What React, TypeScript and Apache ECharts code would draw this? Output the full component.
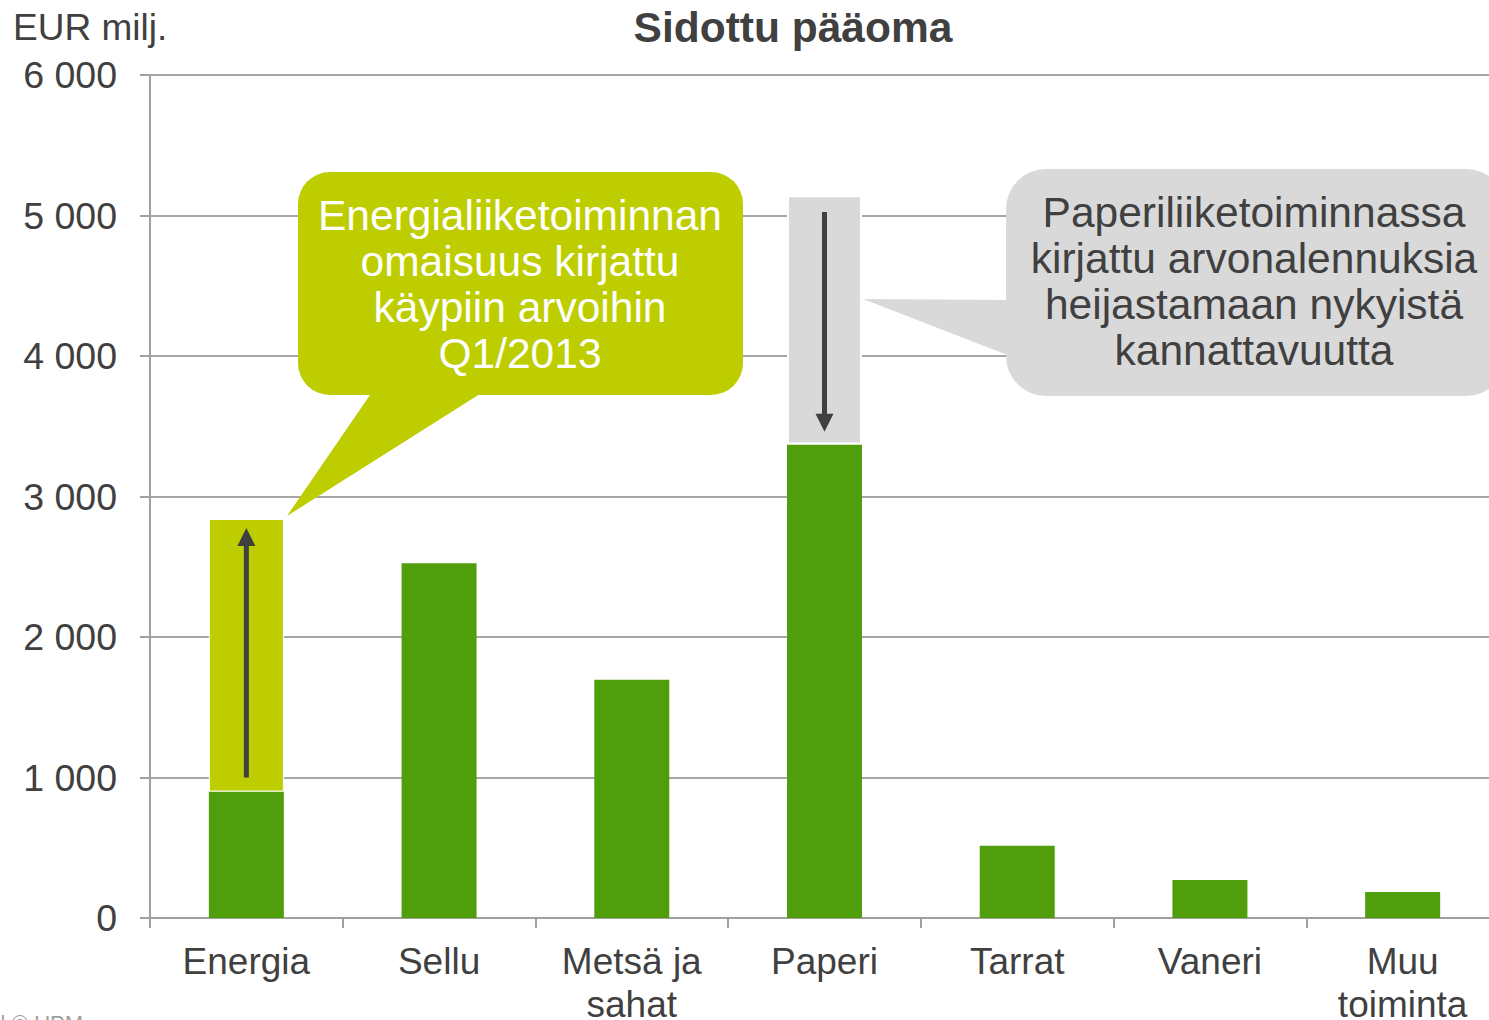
import React, { useEffect, useRef } from "react";
import * as echarts from "echarts";

const categories = ["Energia", "Sellu", "Metsä ja\nsahat", "Paperi", "Tarrat", "Vaneri", "Muu\ntoiminta"];
const baseValues = [900, 2525, 1695, 3370, 515, 270, 185];
const energyRevaluation = [1940, null, null, null, null, null, null];
const paperImpairment = [null, null, null, 1775, null, null, null];
const yTicks = [0, 1000, 2000, 3000, 4000, 5000, 6000];
const energyArrow = [1000, 2775];
const paperArrow = [5025, 3460];

const TEXT = "#404040";
const GREEN = "#509E0C";
const LIME = "#BDCD00";
const GRAY = "#D9D9D9";
const FONT = "Liberation Sans, Arial, sans-serif";

export default function App() {
  const ref = useRef<HTMLDivElement>(null);
  useEffect(() => {
    if (!ref.current) return;
    const chart = echarts.init(ref.current, undefined, { renderer: "svg" });
    chart.setOption({
      animation: false,
      textStyle: { fontFamily: FONT },
      grid: { left: 150, right: -10, top: 75, bottom: 102, containLabel: false, outerBoundsMode: "none" },
      xAxis: {
        type: "category",
        data: categories,
        axisLine: { lineStyle: { color: "#A0A0A0", width: 2 } },
        axisTick: { show: true, length: 10, lineStyle: { color: "#A0A0A0", width: 2 } },
        axisLabel: { fontSize: 37, color: TEXT, margin: 22, lineHeight: 43, interval: 0, fontFamily: FONT },
      },
      yAxis: {
        type: "value",
        min: yTicks[0],
        max: yTicks[yTicks.length - 1],
        interval: 1000,
        axisLine: { show: true, lineStyle: { color: "#A0A0A0", width: 2 } },
        axisTick: { show: true, length: 10, lineStyle: { color: "#A0A0A0", width: 2 } },
        splitLine: { lineStyle: { color: "#A6A6A6", width: 2 } },
        axisLabel: {
          fontSize: 37.5,
          color: TEXT,
          margin: 33,
          fontFamily: FONT,
          formatter: (v: number) => String(v).replace(/\B(?=(\d{3})+(?!\d))/g, " "),
        },
      },
      series: [
        {
          type: "bar",
          stack: "s",
          data: baseValues,
          barWidth: 75,
          itemStyle: { color: GREEN },
        },
        {
          type: "bar",
          stack: "s",
          data: energyRevaluation,
          barWidth: 75,
          itemStyle: { color: LIME, borderColor: "#fff", borderWidth: 1 },
        },
        {
          type: "bar",
          stack: "s",
          data: paperImpairment,
          barWidth: 75,
          itemStyle: { color: GRAY, borderColor: "#fff", borderWidth: 2 },
        },
      ],
    });

    const px = (cat: string) => chart.convertToPixel({ xAxisIndex: 0 }, cat) as number;
    const py = (v: number) => chart.convertToPixel({ yAxisIndex: 0 }, v) as number;
    const ex = px(categories[0]);
    const pxp = px(categories[3]);
    const e0 = py(energyArrow[0]);
    const e1 = py(energyArrow[1]);
    const p0 = py(paperArrow[0]);
    const p1 = py(paperArrow[1]);
    const head = 18;
    const hw = 9;

    chart.setOption({
      graphic: [
        {
          type: "text",
          x: 793,
          y: 27,
          style: {
            text: "Sidottu pääoma",
            fontSize: 42.5,
            fontWeight: "bold",
            fill: TEXT,
            fontFamily: FONT,
            align: "center",
            verticalAlign: "middle",
          },
        },
        {
          type: "text",
          left: 13,
          top: 9,
          style: { text: "EUR milj.", fontSize: 37, fill: TEXT, fontFamily: FONT },
        },
        {
          type: "text",
          left: 0,
          top: 1012,
          style: { text: "| © UPM", fontSize: 22, fill: "#A0A0A0", fontFamily: FONT },
        },
        {
          type: "line",
          shape: { x1: ex, y1: e0, x2: ex, y2: e1 + head - 2 },
          style: { stroke: TEXT, lineWidth: 5 },
          z: 10,
        },
        {
          type: "polygon",
          shape: { points: [[ex, e1], [ex - hw, e1 + head], [ex + hw, e1 + head]] },
          style: { fill: TEXT },
          z: 10,
        },
        {
          type: "line",
          shape: { x1: pxp, y1: p0, x2: pxp, y2: p1 - head + 2 },
          style: { stroke: TEXT, lineWidth: 5 },
          z: 10,
        },
        {
          type: "polygon",
          shape: { points: [[pxp, p1], [pxp - hw, p1 - head], [pxp + hw, p1 - head]] },
          style: { fill: TEXT },
          z: 10,
        },
        {
          type: "polygon",
          shape: { points: [[372, 392], [483, 392], [287, 516]] },
          style: { fill: LIME },
          z: 20,
        },
        {
          type: "rect",
          shape: { x: 298, y: 172, width: 445, height: 223, r: 32 },
          style: { fill: LIME },
          z: 20,
        },
        {
          type: "text",
          x: 520,
          y: 284,
          style: {
            text: "Energialiiketoiminnan\nomaisuus kirjattu\nkäypiin arvoihin\nQ1/2013",
            fontSize: 42.5,
            lineHeight: 46,
            align: "center",
            verticalAlign: "middle",
            fill: "#fff",
            fontFamily: FONT,
          },
          z: 21,
        },
        {
          type: "polygon",
          shape: { points: [[1010, 300], [1010, 356], [863, 299]] },
          style: { fill: GRAY },
          z: 20,
        },
        {
          type: "rect",
          shape: { x: 1006, y: 169, width: 500, height: 227, r: 40 },
          style: { fill: GRAY },
          z: 20,
        },
        {
          type: "text",
          x: 1254,
          y: 281,
          style: {
            text: "Paperiliiketoiminnassa\nkirjattu arvonalennuksia\nheijastamaan nykyistä\nkannattavuutta",
            fontSize: 42.5,
            lineHeight: 46,
            align: "center",
            verticalAlign: "middle",
            fill: TEXT,
            fontFamily: FONT,
          },
          z: 21,
        },
      ],
    });

    return () => chart.dispose();
  }, []);

  return (
    <div
      ref={ref}
      style={{ position: "fixed", left: 0, top: 0, width: 1489, height: 1020, background: "#fff" }}
    />
  );
}
